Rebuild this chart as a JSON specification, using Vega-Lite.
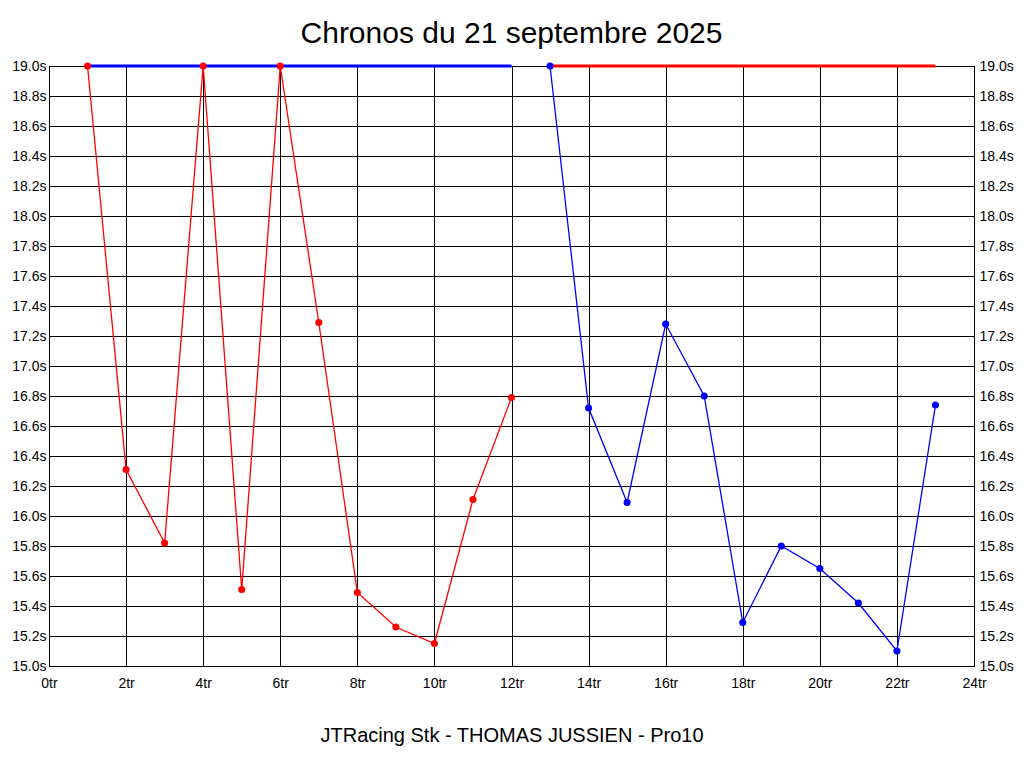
{
  "$schema": "https://vega.github.io/schema/vega-lite/v6.json",
  "width": 925,
  "height": 600,
  "autosize": {"type": "none"},
  "padding": {"left": 49, "top": 66, "right": 50, "bottom": 102},
  "background": "white",
  "title": {
    "text": "Chronos du 21 septembre 2025",
    "font": "Liberation Sans",
    "fontSize": 30,
    "fontWeight": "normal",
    "color": "black",
    "anchor": "middle",
    "baseline": "alphabetic",
    "offset": -14
  },
  "datasets": {
    "laps": [
      {"lap": 1, "time": 19.0, "series": "red"},
      {"lap": 2, "time": 16.31, "series": "red"},
      {"lap": 3, "time": 15.82, "series": "red"},
      {"lap": 4, "time": 19.0, "series": "red"},
      {"lap": 5, "time": 15.51, "series": "red"},
      {"lap": 6, "time": 19.0, "series": "red"},
      {"lap": 7, "time": 17.29, "series": "red"},
      {"lap": 8, "time": 15.49, "series": "red"},
      {"lap": 9, "time": 15.26, "series": "red"},
      {"lap": 10, "time": 15.15, "series": "red"},
      {"lap": 11, "time": 16.11, "series": "red"},
      {"lap": 12, "time": 16.79, "series": "red"},
      {"lap": 13, "time": 19.0, "series": "blue"},
      {"lap": 14, "time": 16.72, "series": "blue"},
      {"lap": 15, "time": 16.09, "series": "blue"},
      {"lap": 16, "time": 17.28, "series": "blue"},
      {"lap": 17, "time": 16.8, "series": "blue"},
      {"lap": 18, "time": 15.29, "series": "blue"},
      {"lap": 19, "time": 15.8, "series": "blue"},
      {"lap": 20, "time": 15.65, "series": "blue"},
      {"lap": 21, "time": 15.42, "series": "blue"},
      {"lap": 22, "time": 15.1, "series": "blue"},
      {"lap": 23, "time": 16.74, "series": "blue"}
    ],
    "maxes": [
      {"from": 1, "to": 12, "time": 19.0, "series": "blue"},
      {"from": 13, "to": 23, "time": 19.0, "series": "red"}
    ]
  },
  "config": {
    "view": {"stroke": "black", "strokeWidth": 1},
    "axis": {
      "domainColor": "black",
      "domainWidth": 1,
      "ticks": false,
      "gridColor": "black",
      "gridOpacity": 1,
      "gridWidth": 1,
      "labelFont": "Liberation Sans",
      "labelFontSize": 14,
      "labelColor": "black",
      "titleFont": "Liberation Sans",
      "titleColor": "black",
      "titleFontWeight": "normal"
    }
  },
  "resolve": {"axis": {"y": "independent"}},
  "layer": [
    {
      "data": {"name": "maxes"},
      "mark": {"type": "rule", "strokeWidth": 3},
      "encoding": {
        "x": {
          "field": "from",
          "type": "quantitative",
          "scale": {"domain": [0, 24], "nice": false, "zero": false},
          "axis": {
            "values": [0, 2, 4, 6, 8, 10, 12, 14, 16, 18, 20, 22, 24],
            "labelExpr": "datum.value + 'tr'",
            "labelPadding": 10,
            "labelFlush": false,
            "title": "JTRacing Stk - THOMAS JUSSIEN - Pro10",
            "titleFontSize": 20,
            "titlePadding": 35
          }
        },
        "x2": {"field": "to"},
        "y": {
          "field": "time",
          "type": "quantitative",
          "scale": {"domain": [15, 19], "nice": false, "zero": false},
          "axis": {
            "orient": "left",
            "values": [15, 15.2, 15.4, 15.6, 15.8, 16, 16.2, 16.4, 16.6, 16.8, 17, 17.2, 17.4, 17.6, 17.8, 18, 18.2, 18.4, 18.6, 18.8, 19],
            "labelExpr": "format(datum.value, '.1f') + 's'",
            "labelPadding": 3,
            "labelFlush": false,
            "title": null
          }
        },
        "color": {
          "field": "series",
          "type": "nominal",
          "scale": {"domain": ["red", "blue"], "range": ["#ff0000", "#0000ff"]},
          "legend": null
        }
      }
    },
    {
      "data": {"name": "laps"},
      "mark": {"type": "line", "strokeWidth": 1.3, "point": {"filled": true, "size": 50, "opacity": 1}},
      "encoding": {
        "x": {"field": "lap", "type": "quantitative"},
        "y": {
          "field": "time",
          "type": "quantitative",
          "axis": {
            "orient": "right",
            "values": [15, 15.2, 15.4, 15.6, 15.8, 16, 16.2, 16.4, 16.6, 16.8, 17, 17.2, 17.4, 17.6, 17.8, 18, 18.2, 18.4, 18.6, 18.8, 19],
            "labelExpr": "format(datum.value, '.1f') + 's'",
            "labelPadding": 5,
            "labelFlush": false,
            "grid": false,
            "title": null
          }
        },
        "color": {"field": "series", "type": "nominal", "legend": null},
        "detail": {"field": "series"}
      }
    }
  ]
}
